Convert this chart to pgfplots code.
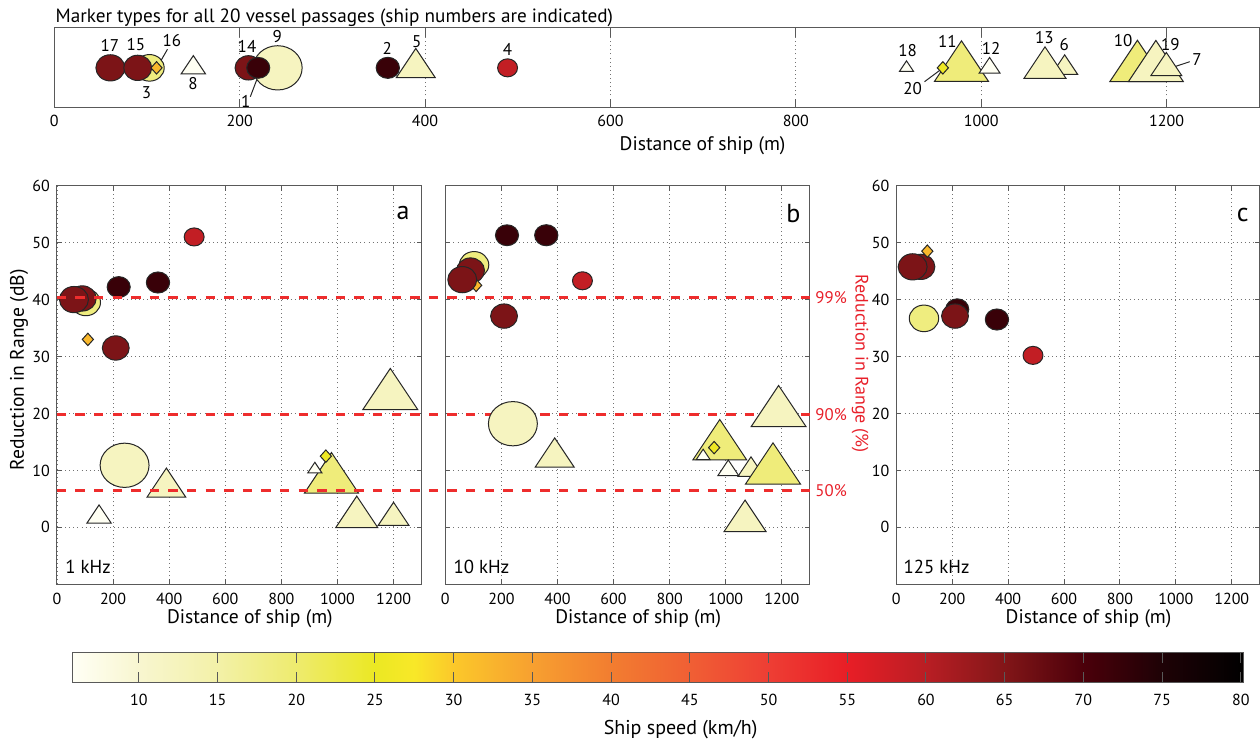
\documentclass[border=0pt]{standalone}
\usepackage{fontspec}
\setmainfont{PT Sans}
\usepackage{pgfplots}
\pgfplotsset{compat=1.18}
\usepackage{xcolor}
\definecolor{pctred}{RGB}{232,32,42}
\definecolor{lnred}{RGB}{238,45,45}

% marker shapes as MATLAB draws them
\pgfdeclareplotmark{mell}{%
  \pgfpathellipse{\pgfpointorigin}{\pgfqpoint{1.05\pgfplotmarksize}{0pt}}{\pgfqpoint{0pt}{0.95\pgfplotmarksize}}%
  \pgfusepathqfillstroke}
\pgfdeclareplotmark{mtri}{%
  \pgfpathmoveto{\pgfqpoint{0pt}{\pgfplotmarksize}}%
  \pgfpathlineto{\pgfqpoint{-\pgfplotmarksize}{-0.5\pgfplotmarksize}}%
  \pgfpathlineto{\pgfqpoint{\pgfplotmarksize}{-0.5\pgfplotmarksize}}%
  \pgfpathclose\pgfusepathqfillstroke}
\pgfdeclareplotmark{mdia}{%
  \pgfpathmoveto{\pgfqpoint{0pt}{\pgfplotmarksize}}%
  \pgfpathlineto{\pgfqpoint{0.9\pgfplotmarksize}{0pt}}%
  \pgfpathlineto{\pgfqpoint{0pt}{-\pgfplotmarksize}}%
  \pgfpathlineto{\pgfqpoint{-0.9\pgfplotmarksize}{0pt}}%
  \pgfpathclose\pgfusepathqfillstroke}

% one ship: mark, size, distance, value, speed
\newcommand{\ship}[5]{%
  \addplot[scatter, only marks, mark=#1, mark size=#2pt, line width=0.5pt,
    scatter/use mapped color={draw=black!85, fill=mapped color},
    point meta=explicit] coordinates {(#3,#4) [#5]};}

\tikzset{ylab/.style={font=\fontsize{9.8}{11}\selectfont, anchor=center},
  refline/.style={lnred, line width=1.5pt, dash pattern=on 4.7pt off 4.6pt}}
\pgfplotsset{
  colormap={speed}{
    rgb255(0pt)=(255,255,245) rgb255(4.2pt)=(248,246,208)
    rgb255(9.2pt)=(243,241,168) rgb255(14.2pt)=(238,235,110)
    rgb255(19.2pt)=(235,232,35) rgb255(21.7pt)=(248,232,40)
    rgb255(24.2pt)=(251,200,42) rgb255(29.2pt)=(247,160,48)
    rgb255(34.2pt)=(242,125,48) rgb255(39.2pt)=(240,95,52)
    rgb255(44.2pt)=(238,62,52) rgb255(49.2pt)=(232,30,38)
    rgb255(54.2pt)=(185,30,36) rgb255(59.2pt)=(130,22,24)
    rgb255(64.2pt)=(75,0,10) rgb255(69.2pt)=(30,2,6)
    rgb255(74.4pt)=(0,0,0)},
  base/.style={
    scale only axis, anchor=south west, clip=false,
    xmin=0, xmax=1300,
    point meta min=5.8, point meta max=80.2,
    tick align=inside,
    axis line style={black!65, line width=0.5pt},
    tick style={black!65, line width=0.5pt},
    grid style={black!55, line width=0.45pt, dash pattern=on 0.45pt off 1.6pt},
    ticklabel style={font=\fontsize{8}{9}\selectfont},
    /pgf/number format/assume math mode=true,
    /pgf/number format/1000 sep={},
    xtick={0,200,...,1200},
    xlabel={Distance of ship (m)},
  },
  panel/.style={base,
    width=182.3pt, height=199.3pt,
    ymin=-10, ymax=60, ytick={0,10,...,60},
    grid=major, major tick length=2.5pt,
    xticklabel style={yshift=-1pt},
    xlabel style={font=\fontsize{9.8}{11}\selectfont,
      at={(axis description cs:0.529,-0.0853)}, anchor=center},
  },
}
\newcommand{\khz}{\fontsize{9.4}{10}\selectfont}
\newcommand{\lett}{\fontsize{13}{14}\selectfont}

\begin{document}
\begin{tikzpicture}
\path[use as bounding box] (0,0) rectangle (630pt,369.5pt);

\node[anchor=base west, inner sep=0pt, font=\fontsize{9.6}{11}\selectfont]
  at (27.6pt,358pt) {Marker types for all 20 vessel passages (ship numbers are indicated)};

% ---- marker key
\begin{axis}[base, at={(27.15pt,315.65pt)}, width=602.5pt, height=39.85pt,
  ymin=0, ymax=1, ytick=\empty, xmajorgrids, major tick length=4.3pt,
  xlabel style={font=\fontsize{9.8}{11}\selectfont,
    at={(axis description cs:0.538,-0.48)}, anchor=center}]
\ship{mell}{11.65}{241}{0.5}{12}   % 9
\ship{mell}{7.0}{102.7}{0.5}{18.5} % 3
\ship{mell}{6.9}{60.5}{0.5}{65.5}  % 17
\ship{mell}{6.65}{90}{0.5}{65.5}   % 15
\ship{mell}{6.4}{209.5}{0.5}{65.5} % 14
\ship{mell}{5.5}{220}{0.5}{72}     % 1
\ship{mell}{5.55}{359.8}{0.5}{72}  % 2
\ship{mell}{4.75}{489}{0.5}{59}    % 4
\ship{mtri}{6.5}{1090}{0.5}{12}    % 6
\ship{mtri}{10.5}{1068.8}{0.5}{12} % 13
\ship{mtri}{13.5}{978.7}{0.5}{19}  % 11
\ship{mtri}{5.2}{1009}{0.5}{6}     % 12
\ship{mtri}{3.5}{919.4}{0.5}{6}    % 18
\ship{mtri}{13.8}{1168.5}{0.5}{19} % 10
\ship{mtri}{13.7}{1188.4}{0.5}{12} % 19
\ship{mtri}{7.7}{1199.7}{0.5}{12}  % 7
\ship{mtri}{9.7}{390}{0.5}{12}     % 5
\ship{mtri}{6.1}{150}{0.5}{6}      % 8
\ship{mdia}{3.1}{110.3}{0.5}{32}   % 16
\ship{mdia}{3.1}{958.6}{0.5}{25.5} % 20
\begin{scope}[font=\fontsize{8.5}{9}\selectfont]
\node at (axis cs:60,0.787) {17};
\node at (axis cs:88,0.787) {15};
\node at (axis cs:126.8,0.841) {16};
\node at (axis cs:99.5,0.188) {3};
\node at (axis cs:149.7,0.306) {8};
\node at (axis cs:207.9,0.765) {14};
\node at (axis cs:240.6,0.891) {9};
\node at (axis cs:206.5,0.075) {1};
\node at (axis cs:359.1,0.745) {2};
\node at (axis cs:391,0.828) {5};
\node at (axis cs:489,0.733) {4};
\node at (axis cs:920.5,0.711) {18};
\node at (axis cs:963.6,0.837) {11};
\node at (axis cs:1010.7,0.745) {12};
\node at (axis cs:925.9,0.243) {20};
\node at (axis cs:1068.1,0.883) {13};
\node at (axis cs:1089.6,0.787) {6};
\node at (axis cs:1153.1,0.837) {10};
\node at (axis cs:1204.1,0.787) {19};
\node at (axis cs:1232.9,0.598) {7};
\end{scope}
\draw[black!85, line width=0.5pt] (axis cs:122.1,0.733) -- (axis cs:110.3,0.494);
\draw[black!85, line width=0.5pt] (axis cs:211.5,0.138) -- (axis cs:218.6,0.356);
\draw[black!85, line width=0.5pt] (axis cs:938.8,0.326) -- (axis cs:958.2,0.494);
\draw[black!85, line width=0.5pt] (axis cs:1225,0.577) -- (axis cs:1203.4,0.494);
\end{axis}

% ---- a: 1 kHz
\begin{axis}[panel, at={(28.5pt,77.35pt)},
  ylabel={Reduction in Range (dB)},
  ylabel style={ylab, at={(axis description cs:-0.104,0.538)}}]
\ship{mell}{5.5}{220}{42.2}{72}      % 1
\ship{mell}{5.55}{360}{43.0}{72}     % 2
\ship{mell}{7.0}{102.7}{39.5}{18.5}  % 3
\ship{mell}{4.75}{489}{51.0}{59}     % 4
\ship{mtri}{9.7}{390}{7.0}{12}       % 5
\ship{mtri}{7.7}{1200}{1.7}{12}      % 7
\ship{mtri}{6.1}{150}{1.8}{6}        % 8
\ship{mell}{11.65}{241}{10.9}{12}    % 9
\ship{mtri}{13.5}{978.7}{8.4}{19}    % 11
\ship{mtri}{10.5}{1068.8}{1.8}{12}   % 13
\ship{mell}{6.4}{209.5}{31.5}{65.5}  % 14
\ship{mell}{6.65}{90}{40.2}{65.5}    % 15
\ship{mdia}{3.1}{110}{33.0}{32}      % 16
\ship{mell}{6.9}{60.5}{40.0}{65.5}   % 17
\ship{mtri}{3.5}{919.4}{10.2}{6}     % 18
\ship{mtri}{13.7}{1188.4}{23.1}{12}  % 19
\ship{mdia}{3.1}{958.6}{12.5}{25.5}  % 20
\node[font=\lett] at (axis description cs:0.949,0.931) {a};
\node[font=\khz, anchor=west, inner sep=0pt] at (axis description cs:0.022,0.0427) {1 kHz};
\end{axis}

% ---- b: 10 kHz
\begin{axis}[panel, at={(222.65pt,77.35pt)}, yticklabels={}]
\ship{mell}{5.5}{220}{51.3}{72}      % 1
\ship{mell}{5.55}{360}{51.3}{72}     % 2
\ship{mell}{7.0}{102.7}{46.1}{18.5}  % 3
\ship{mell}{4.75}{489}{43.3}{59}     % 4
\ship{mtri}{9.7}{390}{12.3}{12}      % 5
\ship{mtri}{6.5}{1090}{10.1}{12}     % 6
\ship{mell}{11.65}{241}{18.2}{12}    % 9
\ship{mtri}{13.8}{1168.5}{10.0}{19}  % 10
\ship{mtri}{13.5}{978.7}{14.2}{19}   % 11
\ship{mtri}{5.2}{1009}{10.0}{6}      % 12
\ship{mtri}{10.5}{1068.8}{1.1}{12}   % 13
\ship{mell}{6.4}{209.5}{37.1}{65.5}  % 14
\ship{mell}{6.65}{90}{45.1}{65.5}    % 15
\ship{mdia}{3.1}{110}{42.5}{32}      % 16
\ship{mell}{6.9}{60.5}{43.5}{65.5}   % 17
\ship{mtri}{3.5}{919.4}{12.5}{6}     % 18
\ship{mtri}{13.7}{1188.4}{20.1}{12}  % 19
\ship{mdia}{3.1}{958.6}{14.0}{25.5}  % 20
% reference levels, drawn across panels a and b
\draw[refline] (axis cs:-1385,40.3) -- (axis cs:1300,40.3);
\draw[refline] (axis cs:-1385,19.8) -- (axis cs:1300,19.8);
\draw[refline] (axis cs:-1385,6.4) -- (axis cs:1300,6.4);
\begin{scope}[font=\fontsize{8.4}{9}\selectfont, text=pctred]
\node[anchor=west, inner sep=0pt, xshift=2.6pt] at (axis cs:1300,40.3) {99\%};
\node[anchor=west, inner sep=0pt, xshift=2.6pt] at (axis cs:1300,19.8) {90\%};
\node[anchor=west, inner sep=0pt, xshift=2.6pt] at (axis cs:1300,6.5) {50\%};
\end{scope}
\node[font=\lett] at (axis description cs:0.955,0.931) {b};
\node[font=\khz, anchor=west, inner sep=0pt] at (axis description cs:0.022,0.0427) {10 kHz};
\end{axis}

% ---- c: 125 kHz
\begin{axis}[panel, at={(448.15pt,77.35pt)}, width=181.7pt,
  ylabel={Reduction in Range (\%)},
  ylabel style={ylab, font=\fontsize{9}{10}\selectfont, text=pctred, rotate=180,
    at={(axis description cs:-0.0999,0.553)}}]
\ship{mell}{5.5}{218}{38.3}{72}      % 1
\ship{mell}{5.55}{360}{36.5}{72}     % 2
\ship{mell}{7.0}{99}{36.7}{18.5}     % 3
\ship{mell}{4.75}{489}{30.2}{59}     % 4
\ship{mell}{6.4}{210}{37.1}{65.5}    % 14
\ship{mell}{6.65}{88}{45.75}{65.5}   % 15
\ship{mdia}{3.1}{111}{48.5}{32}      % 16
\ship{mell}{6.9}{58.5}{45.75}{65.5}  % 17
\node[font=\lett] at (axis description cs:0.953,0.926) {c};
\node[font=\khz, anchor=west, inner sep=0pt] at (axis description cs:0.019,0.0427) {125 kHz};
\end{axis}

% ---- colour bar
\begin{axis}[at={(36.35pt,36.85pt)}, anchor=south west, scale only axis,
  width=585.65pt, height=15pt, hide axis, xmin=0, xmax=1, ymin=0, ymax=1,
  point meta min=5.8, point meta max=80.2,
  colorbar horizontal,
  colorbar style={at={(parent axis.south west)}, anchor=south west,
    scale only axis, width=585.65pt, height=15pt,
    xtick={10,15,...,80}, tick align=inside, major tick length=5.3pt,
    xtick pos=both, xticklabel pos=lower,
    axis line style={black!65, line width=0.5pt},
    tick style={black!65, line width=0.5pt},
    xticklabel style={font=\fontsize{8}{9}\selectfont, yshift=-2.5pt},
    /pgf/number format/assume math mode=true,
    xlabel={Ship speed (km/h)},
    xlabel style={font=\fontsize{10}{11}\selectfont,
      at={(axis description cs:0.519,-1.58)}, anchor=center}}]
\addplot[draw=none] coordinates {(0,0)};
\end{axis}
\end{tikzpicture}
\end{document}
